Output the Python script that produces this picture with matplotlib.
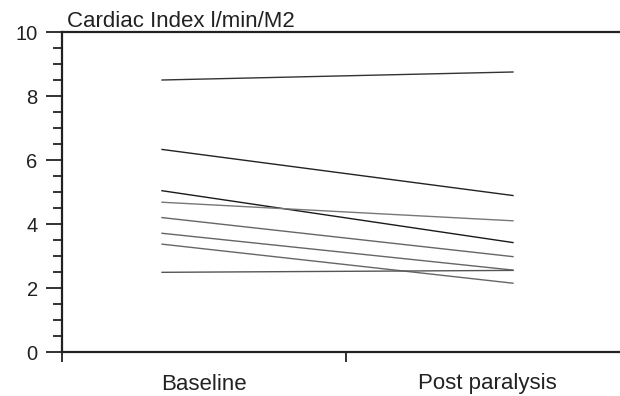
import numpy as np
import matplotlib
matplotlib.use("Agg")
import matplotlib.pyplot as plt
from matplotlib.ticker import MultipleLocator

plt.rcParams['font.family'] = ['Liberation Sans', 'DejaVu Sans']

# cardiac index per patient, l/min/M2
categories = ["Baseline", "Post paralysis"]
baseline = [8.50, 6.33, 5.04, 4.68, 4.20, 3.71, 3.37, 2.49]
post = [8.75, 4.89, 3.42, 4.10, 2.98, 2.56, 2.15, 2.55]
line_colors = ["#333333", "#222222", "#1a1a1a", "#777777", "#666666", "#666666", "#666666", "#555555"]

fig = plt.figure(figsize=(6.2, 3.96), dpi=100)
ax = fig.add_axes([62/620, 44/396, 1 - 62/620, (352 - 32)/396])

for b, p, c in zip(baseline, post, line_colors):
    ax.plot([0, 1], [b, p], color=c, lw=1.0)

ax.set_xlim(-0.285, 1.305)
ax.set_ylim(0, 10)

ax.spines['right'].set_visible(False)
for s in ['left', 'top', 'bottom']:
    ax.spines[s].set_linewidth(1.6)
    ax.spines[s].set_color('#222222')

ax.yaxis.set_major_locator(MultipleLocator(2))
ax.yaxis.set_minor_locator(MultipleLocator(0.5))
ax.tick_params(axis='y', which='major', length=11.5, width=1.3, labelsize=14.5, pad=6, colors='#222222')
ax.tick_params(axis='y', which='minor', length=6.5, width=1.3, colors='#222222')

# x ticks: one at the axis corner and one in the middle, labels placed separately
ax.set_xticks([-0.285, 0.524])
ax.set_xticklabels(["", ""])
ax.tick_params(axis='x', which='major', length=7.5, width=1.3, colors='#222222')

label_pos = [0.12, 0.926]
for xp, lab in zip(label_pos, categories):
    ax.text(xp, -0.1, lab, transform=ax.get_xaxis_transform(), ha='center', va='center',
            fontsize=16, color='#222222')

fig.text(67/620, 1 - 27/396, "Cardiac Index l/min/M2", ha='left', va='baseline',
         fontsize=16, color='#222222')

fig.savefig("out.png", dpi=100)
